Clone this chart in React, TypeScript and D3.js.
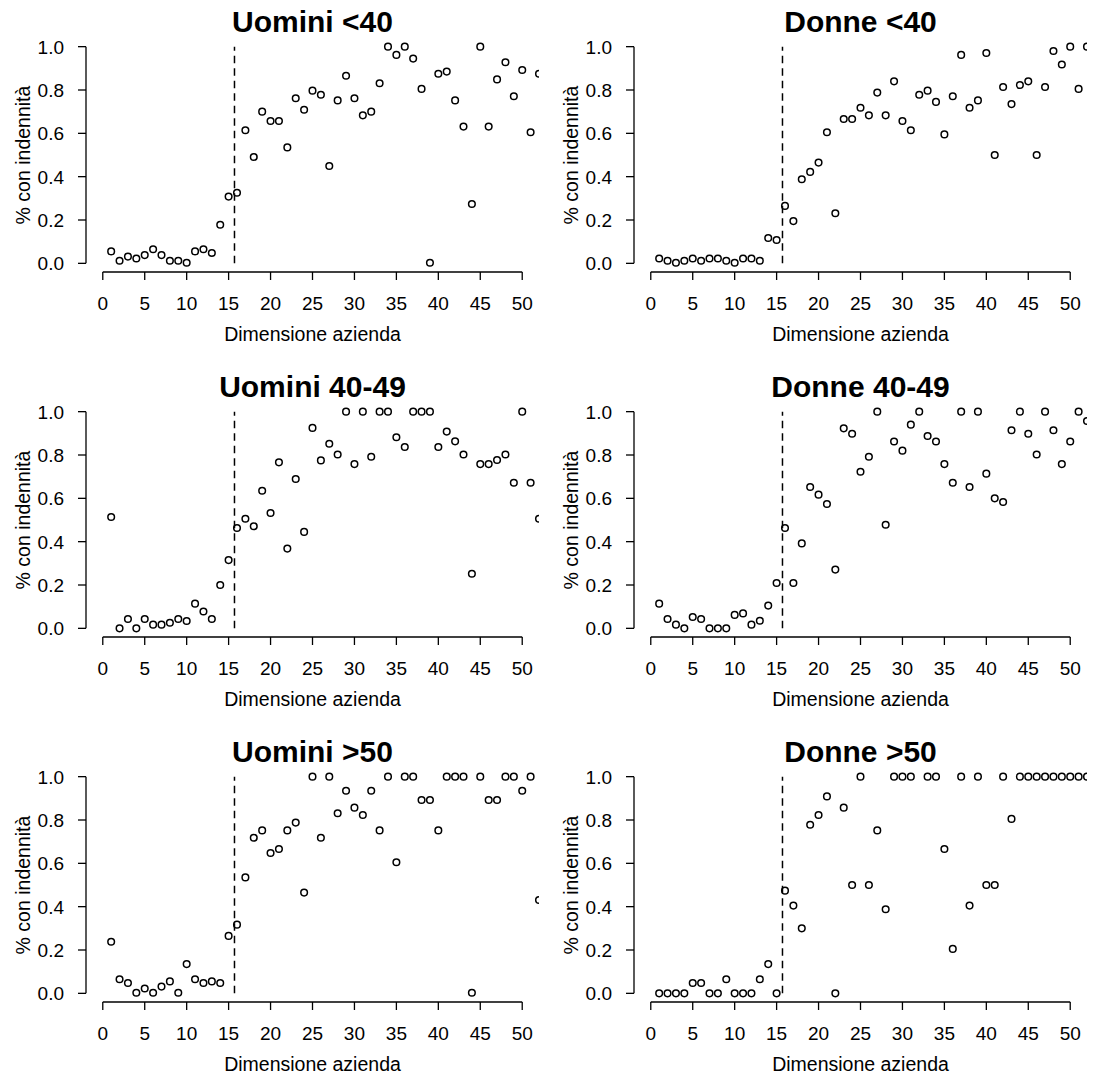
import React from "react";
import * as d3 from "d3";

// Company size (x values)
const sizes = [
  1, 2, 3, 4, 5, 6, 7, 8, 9, 10, 11, 12, 13, 14, 15, 16, 17, 18, 19, 20, 21, 22, 23, 24, 25, 26,
  27, 28, 29, 30, 31, 32, 33, 34, 35, 36, 37, 38, 39, 40, 41, 42, 43, 44, 45, 46, 47, 48, 49, 50, 51, 52,
];

const uominiUnder40 = [
  0.055, 0.012, 0.031, 0.022, 0.038, 0.065, 0.038, 0.012, 0.012, 0.003, 0.055, 0.065, 0.048,
  0.178, 0.308, 0.326, 0.614, 0.491, 0.7, 0.657, 0.657, 0.535, 0.762, 0.709, 0.797, 0.778,
  0.449, 0.752, 0.866, 0.762, 0.683, 0.7, 0.831, 1.0, 0.962, 1.0, 0.945, 0.805, 0.003, 0.875,
  0.885, 0.752, 0.631, 0.274, 1.0, 0.631, 0.849, 0.928, 0.771, 0.892, 0.605, 0.875,
];

const donneUnder40 = [
  0.022, 0.012, 0.003, 0.012, 0.022, 0.012, 0.022, 0.022, 0.012, 0.003, 0.022, 0.022, 0.012,
  0.117, 0.108, 0.265, 0.195, 0.388, 0.422, 0.465, 0.605, 0.231, 0.666, 0.666, 0.718, 0.683,
  0.788, 0.683, 0.84, 0.657, 0.614, 0.778, 0.797, 0.745, 0.595, 0.771, 0.962, 0.718, 0.752,
  0.971, 0.5, 0.814, 0.735, 0.823, 0.84, 0.5, 0.814, 0.98, 0.918, 1.0, 0.805, 1.0,
];

const uomini4049 = [
  0.514, 0.0, 0.043, 0.0, 0.043, 0.017, 0.017, 0.026, 0.043, 0.034, 0.114, 0.078, 0.043, 0.2,
  0.315, 0.463, 0.506, 0.471, 0.635, 0.532, 0.766, 0.368, 0.689, 0.445, 0.925, 0.775, 0.852,
  0.802, 1.0, 0.758, 1.0, 0.792, 1.0, 1.0, 0.882, 0.837, 1.0, 1.0, 1.0, 0.837, 0.908, 0.863,
  0.802, 0.252, 0.758, 0.758, 0.777, 0.802, 0.672, 1.0, 0.672, 0.506,
];

const donne4049 = [
  0.114, 0.043, 0.017, 0.0, 0.052, 0.043, 0.0, 0.0, 0.0, 0.062, 0.069, 0.017, 0.035, 0.105,
  0.209, 0.463, 0.209, 0.392, 0.652, 0.617, 0.574, 0.271, 0.923, 0.898, 0.723, 0.792, 1.0,
  0.478, 0.862, 0.82, 0.94, 1.0, 0.888, 0.862, 0.758, 0.672, 1.0, 0.652, 1.0, 0.714, 0.6,
  0.583, 0.914, 1.0, 0.898, 0.802, 1.0, 0.914, 0.758, 0.862, 1.0, 0.957,
];

const uominiOver50 = [
  0.238, 0.065, 0.048, 0.003, 0.022, 0.003, 0.031, 0.055, 0.003, 0.135, 0.065, 0.048, 0.055,
  0.048, 0.265, 0.317, 0.535, 0.718, 0.752, 0.648, 0.666, 0.752, 0.788, 0.465, 1.0, 0.718, 1.0,
  0.831, 0.935, 0.857, 0.823, 0.935, 0.752, 1.0, 0.605, 1.0, 1.0, 0.892, 0.892, 0.752, 1.0,
  1.0, 1.0, 0.003, 1.0, 0.892, 0.892, 1.0, 1.0, 0.935, 1.0, 0.431,
];

const donneOver50: (number | null)[] = [
  0.0, 0.0, 0.0, 0.0, 0.048, 0.048, 0.0, 0.0, 0.065, 0.0, 0.0, 0.0, 0.065, 0.135, 0.0, 0.474,
  0.405, 0.3, 0.778, 0.823, 0.909, 0.0, 0.857, 0.5, 1.0, 0.5, 0.752, 0.388, 1.0, 1.0, 1.0, null,
  1.0, 1.0, 0.666, 0.205, 1.0, 0.405, 1.0, 0.5, 0.5, 1.0, 0.805, 1.0, 1.0, 1.0, 1.0, 1.0, 1.0,
  1.0, 1.0, 1.0,
];

const panelTitles = [
  "Uomini <40",
  "Donne <40",
  "Uomini 40-49",
  "Donne 40-49",
  "Uomini >50",
  "Donne >50",
];
const panelSeries = [uominiUnder40, donneUnder40, uomini4049, donne4049, uominiOver50, donneOver50];

const xTicks = [0, 5, 10, 15, 20, 25, 30, 35, 40, 45, 50];
const yTicks = [0, 0.2, 0.4, 0.6, 0.8, 1.0];
const cutoff = 15.7;
const xLabel = "Dimensione azienda";
const yLabel = "% con indennità";

const W = 1093;
const H = 1079;
const FONT = "'Liberation Sans', Arial, Helvetica, sans-serif";

// panel geometry (local coordinates)
const PANEL_DX = 548;
const PANEL_DY = 365;
const L = 86;
const R = 539;
const T = 38;
const B = 272;

const x = d3.scaleLinear().domain([-2, 52]).range([L, R]);
const y = d3.scaleLinear().domain([-0.04, 1.04]).range([B, T]);

function Panel({ idx }: { idx: number }) {
  const col = idx % 2;
  const row = Math.floor(idx / 2);
  const values = panelSeries[idx];
  const clipId = `clip-${idx}`;
  const tick = 8;
  const cx = (L + R) / 2;
  return (
    <g transform={`translate(${col * PANEL_DX},${row * PANEL_DY})`}>
      <defs>
        <clipPath id={clipId}>
          <rect x={L} y={T} width={R - L} height={B - T} />
        </clipPath>
      </defs>
      {/* title */}
      <text x={cx} y={32} textAnchor="middle" fontFamily={FONT} fontWeight="bold" fontSize={30}>
        {panelTitles[idx]}
      </text>
      {/* y axis */}
      <line x1={L} x2={L} y1={y(0)} y2={y(1)} stroke="#000" strokeWidth={1.3} />
      {yTicks.map((t) => (
        <g key={`y${t}`}>
          <line x1={L - tick} x2={L} y1={y(t)} y2={y(t)} stroke="#000" strokeWidth={1.3} />
          <text
            x={L - tick - 14}
            y={y(t)}
            dy="0.36em"
            textAnchor="end"
            fontFamily={FONT}
            fontSize={19}
          >
            {t.toFixed(1)}
          </text>
        </g>
      ))}
      <text
        transform={`translate(30,${(y(0) + y(1)) / 2}) rotate(-90)`}
        textAnchor="middle"
        fontFamily={FONT}
        fontSize={19.5}
      >
        {yLabel}
      </text>
      {/* x axis */}
      <line x1={x(0)} x2={x(50)} y1={B} y2={B} stroke="#000" strokeWidth={1.3} />
      {xTicks.map((t) => (
        <g key={`x${t}`}>
          <line x1={x(t)} x2={x(t)} y1={B} y2={B + tick} stroke="#000" strokeWidth={1.3} />
          <text x={x(t)} y={310} textAnchor="middle" fontFamily={FONT} fontSize={19}>
            {t}
          </text>
        </g>
      ))}
      <text x={cx} y={341} textAnchor="middle" fontFamily={FONT} fontSize={19.5}>
        {xLabel}
      </text>
      {/* cutoff */}
      <line
        x1={x(cutoff)}
        x2={x(cutoff)}
        y1={y(0)}
        y2={y(1)}
        stroke="#000"
        strokeWidth={1.5}
        strokeDasharray="7.5,5"
      />
      {/* points */}
      <g clipPath={`url(#${clipId})`}>
        {values.map((v, i) =>
          v === null ? null : (
            <circle
              key={i}
              cx={x(sizes[i])}
              cy={y(v)}
              r={3.3}
              fill="none"
              stroke="#000"
              strokeWidth={1.5}
            />
          )
        )}
      </g>
    </g>
  );
}

export default function App() {
  return (
    <svg
      width={W}
      height={H}
      viewBox={`0 0 ${W} ${H}`}
      style={{ position: "absolute", left: 0, top: 0, background: "#fff" }}
    >
      <rect width={W} height={H} fill="#fff" />
      {panelTitles.map((_, i) => (
        <Panel key={i} idx={i} />
      ))}
    </svg>
  );
}
